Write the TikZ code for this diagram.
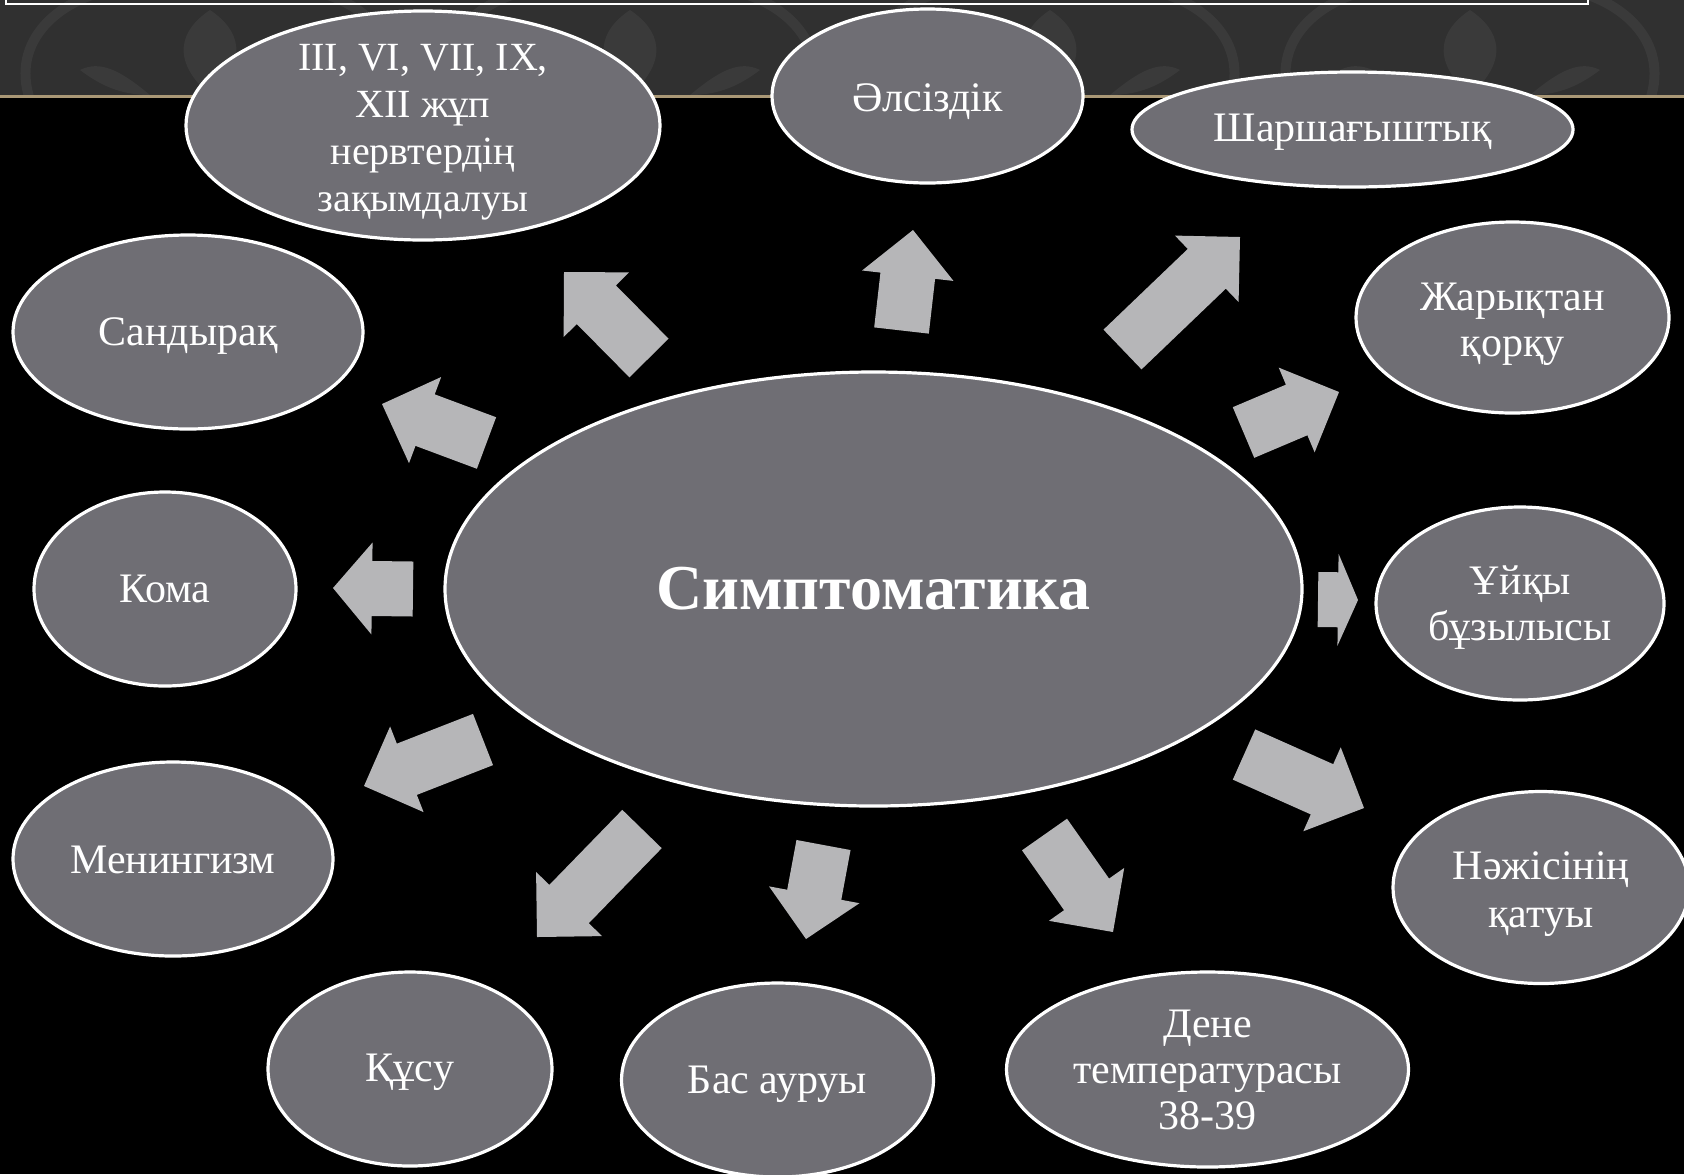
\documentclass[tikz,border=0pt]{standalone}
\usepackage{fontspec}
\setmainfont{Liberation Serif}
\usetikzlibrary{calc,shapes.geometric}
\definecolor{bubble}{RGB}{111,110,116}
\definecolor{arrowgray}{RGB}{182,182,184}
\definecolor{banner}{RGB}{48,48,48}
\definecolor{bannerdeco}{RGB}{58,58,58}
\definecolor{goldline}{RGB}{170,152,118}
\tikzset{
  bub/.style={ellipse, draw=white, line width=1.6pt, fill=bubble, inner sep=0pt},
  bubtext/.style={text=white, align=center, font=\fontsize{21}{23}\selectfont, inner sep=0pt},
  maintext/.style={text=white, align=center, font=\bfseries\fontsize{32}{36}\selectfont, inner sep=0pt},
  blockarrowfill/.style={fill=arrowgray},
}
% #1 tail coordinate, #2 tip coordinate, #3 head length
\newcommand{\blockarrow}[3]{%
  \coordinate (tmpH) at ($(#2)!#3!(#1)$);
  \fill[blockarrowfill] ($(#1)!13.75pt!90:(#2)$) -- ($(tmpH)!13.75pt!90:(#2)$)
    -- ($(tmpH)!23pt!90:(#2)$) -- (#2) -- ($(tmpH)!23pt!-90:(#2)$)
    -- ($(tmpH)!13.75pt!-90:(#2)$) -- ($(#1)!13.75pt!-90:(#2)$) -- cycle;
}
\begin{document}
\begin{tikzpicture}[x=0.5pt,y=-0.5pt]
\useasboundingbox (0,0) rectangle (1684,1174);
% background
\fill[black] (0,0) rectangle (1684,1174);
\fill[banner] (0,0) rectangle (1684,96);
\begin{scope}
  \clip (0,0) rectangle (1684,95);
  \foreach \ox in {0,420,840,1260} {
    \draw[bannerdeco, line width=5pt] (\ox+30,100) .. controls (\ox+10,40) and (\ox+60,0) .. (\ox+110,-10);
    \draw[bannerdeco, line width=5pt] (\ox+390,100) .. controls (\ox+410,40) and (\ox+360,0) .. (\ox+310,-10);
    \fill[bannerdeco] (\ox+210,95) .. controls (\ox+170,60) and (\ox+180,30) .. (\ox+210,10)
      .. controls (\ox+240,30) and (\ox+250,60) .. (\ox+210,95);
    \fill[bannerdeco] (\ox+150,95) .. controls (\ox+120,70) and (\ox+100,60) .. (\ox+80,70)
      .. controls (\ox+100,85) and (\ox+120,95) .. (\ox+150,95);
    \fill[bannerdeco] (\ox+270,95) .. controls (\ox+300,70) and (\ox+320,60) .. (\ox+340,70)
      .. controls (\ox+320,85) and (\ox+300,95) .. (\ox+270,95);
  }
\end{scope}
\draw[goldline, line width=1.5pt] (0,96) -- (1684,96);
% title box bottom edge
\draw[white, line width=1pt] (6,-5) -- (6,4) -- (1588,4) -- (1588,-5);

% arrows
\coordinate (a1t) at (413,589);   \coordinate (a1p) at (333,588);
\coordinate (a2t) at (486.5,443); \coordinate (a2p) at (382,404);
\coordinate (a3t) at (483,739.5); \coordinate (a3p) at (364,786);
\coordinate (a4t) at (642,829);   \coordinate (a4p) at (537,937);
\coordinate (a5t) at (649,358);   \coordinate (a5p) at (564,272);
\coordinate (a6t) at (901.5,330.5); \coordinate (a6p) at (913,230);
\coordinate (a7t) at (1122.5,349.5); \coordinate (a7p) at (1240,237);
\coordinate (a8t) at (1243.5,432.5); \coordinate (a8p) at (1339,392);
\coordinate (a9t) at (1318,599.5); \coordinate (a9p) at (1358,600);
\coordinate (a10t) at (1244,754.5); \coordinate (a10p) at (1364,808);
\coordinate (a11t) at (1044.5,834.5); \coordinate (a11p) at (1113,932);
\coordinate (a12t) at (823.5,845); \coordinate (a12p) at (806,939);
\blockarrow{a1t}{a1p}{19.5pt}
\blockarrow{a2t}{a2p}{23pt}
\blockarrow{a3t}{a3p}{23pt}
\blockarrow{a4t}{a4p}{23pt}
\blockarrow{a5t}{a5p}{23pt}
\blockarrow{a6t}{a6p}{23pt}
\blockarrow{a7t}{a7p}{23pt}
\blockarrow{a8t}{a8p}{23pt}
\blockarrow{a9t}{a9p}{10pt}
\blockarrow{a10t}{a10p}{23pt}
\blockarrow{a11t}{a11p}{23pt}
\blockarrow{a12t}{a12p}{22.5pt}

% central ellipse
\node[bub, minimum width=428.5pt, minimum height=217pt] (center) at (873.5,589) {};
\node[maintext] (centertext) at (center.center) {Симптоматика};

% satellites
\node[bub, minimum width=237pt, minimum height=114.5pt] (nerv) at (423,125.5) {};
\node[bubtext, font=\fontsize{20}{23.5}\selectfont, yshift=-3.2pt] (nervtext) at (nerv.center) {III, VI, VII, IX,\\XII жұп\\нервтердің\\зақымдалуы};

\node[bub, minimum width=155.5pt, minimum height=87pt] (alsiz) at (927.5,96) {};
\node[bubtext, yshift=-2.7pt] (alsiztext) at (alsiz.center) {Әлсіздік};

\node[bub, minimum width=220.5pt, minimum height=57.5pt] (shar) at (1352.5,129.5) {};
\node[bubtext, yshift=-1.6pt] (shartext) at (shar.center) {Шаршағыштық};

\node[bub, minimum width=156.5pt, minimum height=95.5pt] (zhar) at (1512.5,317.5) {};
\node[bubtext, yshift=-3.2pt] (zhartext) at (zhar.center) {Жарықтан\\қорқу};

\node[bub, minimum width=144pt, minimum height=96.5pt] (uyqy) at (1520,603.5) {};
\node[bubtext, yshift=-2.1pt] (uyqytext) at (uyqy.center) {Ұйқы\\бұзылысы};

\node[bub, minimum width=148pt, minimum height=96pt] (nazh) at (1541,887.5) {};
\node[bubtext, font=\fontsize{21}{24}\selectfont, yshift=-3.2pt] (nazhtext) at (nazh.center) {Нәжісінің\\қатуы};

\node[bub, minimum width=201pt, minimum height=97.5pt] (dene) at (1207.5,1069.5) {};
\node[bubtext] (denetext) at (dene.center) {Дене\\температурасы\\38-39};

\node[bub, minimum width=156pt, minimum height=97pt] (bas) at (777.5,1080) {};
\node[bubtext, yshift=-2.1pt] (bastext) at (bas.center) {Бас ауруы};

\node[bub, minimum width=142pt, minimum height=97pt] (qusu) at (410,1069) {};
\node[bubtext, yshift=-1.6pt] (qusutext) at (qusu.center) {Құсу};

\node[bub, minimum width=160pt, minimum height=97pt] (menin) at (173,859) {};
\node[bubtext, yshift=-0.5pt] (menintext) at (menin.center) {Менингизм};

\node[bub, minimum width=131pt, minimum height=97pt] (koma) at (165,589) {};
\node[bubtext] (komatext) at (koma.center) {Кома};

\node[bub, minimum width=175pt, minimum height=97pt] (sand) at (188,332) {};
\node[bubtext, yshift=-2.1pt] (sandtext) at (sand.center) {Сандырақ};
\end{tikzpicture}
\end{document}
